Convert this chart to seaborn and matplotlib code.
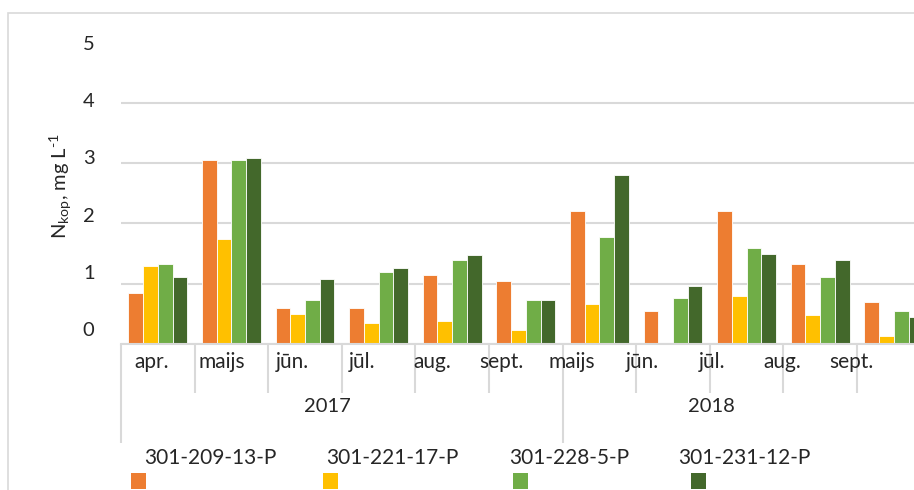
import numpy as np
import pandas as pd
import matplotlib
matplotlib.use('Agg')
import matplotlib.pyplot as plt
from matplotlib.patches import Rectangle
import seaborn as sns

# data
years = ['2017', '2018']
months_2017 = ['apr.', 'maijs', 'jūn.', 'jūl.', 'aug.', 'sept.']
months_2018 = ['maijs', 'jūn.', 'jūl.', 'aug.', 'sept.']
wells = ['301-209-13-P', '301-221-17-P', '301-228-5-P', '301-231-12-P']
colors = ['#ED7D31', '#FFC000', '#70AD47', '#43682B']

w_209 = [0.84, 3.05, 0.59, 0.59, 1.15, 1.04, 2.20, 0.55, 2.20, 1.32, 0.69]
w_221 = [1.30, 1.75, 0.49, 0.35, 0.38, 0.23, 0.66, np.nan, 0.80, 0.48, 0.13]
w_228 = [1.33, 3.05, 0.73, 1.19, 1.40, 0.73, 1.78, 0.76, 1.60, 1.12, 0.55]
w_231 = [1.12, 3.09, 1.08, 1.26, 1.47, 0.73, 2.80, 0.97, 1.50, 1.39, 0.45]

y_ticks = [0, 1, 2, 3, 4, 5]

periods = [f'2017 {m}' for m in months_2017] + [f'2018 {m}' for m in months_2018]
month_labels = months_2017 + months_2018

rows = []
for well, vals in zip(wells, [w_209, w_221, w_228, w_231]):
    for p, v in zip(periods, vals):
        rows.append({'period': p, 'well': well, 'value': v})
df = pd.DataFrame(rows)

sns.set_style('white')
plt.rcParams['font.family'] = ['Lato', 'DejaVu Sans']
plt.rcParams['mathtext.fontset'] = 'custom'
plt.rcParams['mathtext.rm'] = 'Lato'
plt.rcParams['mathtext.it'] = 'Lato'

grid_col = '#D9D9D9'
W, H = 914, 490
fig = plt.figure(figsize=(W / 100, H / 100), dpi=100)

# outer chart border (the picture is cropped on the right and bottom)
fig.add_artist(Rectangle((8 / W, -0.1), 1.2, 1 - 13 / H + 0.1, transform=fig.transFigure,
                         fill=False, edgecolor=grid_col, linewidth=1.2))

ax = fig.add_axes([121 / W, 146 / H, 809.6 / W, 301.3 / H])

sns.barplot(data=df, x='period', y='value', hue='well', order=periods, hue_order=wells,
            palette=colors, width=0.8, gap=0, saturation=1, errorbar=None, legend=False,
            edgecolor='white', linewidth=0.6, ax=ax, zorder=3)

ax.set_xlim(-0.5, len(periods) - 0.5)
ax.set_ylim(0, 5)
ax.set_xlabel('')
ax.set_ylabel('')
for s in ['top', 'right', 'left']:
    ax.spines[s].set_visible(False)
ax.spines['bottom'].set_color(grid_col)
ax.spines['bottom'].set_linewidth(1.5)
ax.spines['bottom'].set_zorder(4)

# gridlines on minor ticks, labels on major ticks (label layer is slightly squeezed)
squeeze = 0.951
ax.set_yticks(y_ticks, minor=True)
ax.set_yticks([5 - (5 - k) * squeeze for k in y_ticks])
ax.set_yticklabels([str(k) for k in y_ticks], fontsize=14.5)
ax.tick_params(axis='y', which='both', length=0, pad=19)
ax.grid(axis='y', which='minor', color=grid_col, linewidth=1.5, zorder=0)
ax.grid(axis='y', which='major', visible=False)

# category separators: long for years, short for months
n = len(periods)
ax.set_xticks([-0.5, len(months_2017) - 0.5, n - 0.5])
ax.set_xticks([i + 0.5 for i in range(n - 1) if i + 1 != len(months_2017)], minor=True)
ax.tick_params(axis='x', which='major', bottom=True, direction='out', length=71, width=1.5,
               color=grid_col, labelbottom=False)
ax.tick_params(axis='x', which='minor', bottom=True, direction='out', length=35, width=1.5,
               color=grid_col, labelbottom=False)

tr = ax.get_xaxis_transform()
for i, lab in enumerate(month_labels):
    ax.text(i * squeeze - 0.08, -0.06, lab, transform=tr, ha='center', va='center',
            fontsize=15, clip_on=False)
year_centers = [2.5, 8.0]
for yc, yr in zip(year_centers, years):
    ax.text(yc * squeeze - 0.08, -0.209, yr, transform=tr, ha='center', va='center',
            fontsize=14.5, clip_on=False)

fig.text(61 / W, 1 - 186 / H, r'N$_{\mathrm{kop}}$, mg L$^{\text{-1}}$', rotation=90,
         ha='center', va='center', fontsize=14.5)

# legend: label above a small colour key
legend_text_x = [210, 392, 569, 744]
legend_key_x = [131, 323, 513, 691]
for lx, kx, lab, c in zip(legend_text_x, legend_key_x, wells, colors):
    fig.text(lx / W, 1 - 458 / H, lab, ha='center', va='center', fontsize=15)
    fig.add_artist(Rectangle((kx / W, 1 - 489 / H), 15 / W, 16 / H,
                             transform=fig.transFigure, facecolor=c, edgecolor='none'))

fig.savefig('out.png', dpi=100)
